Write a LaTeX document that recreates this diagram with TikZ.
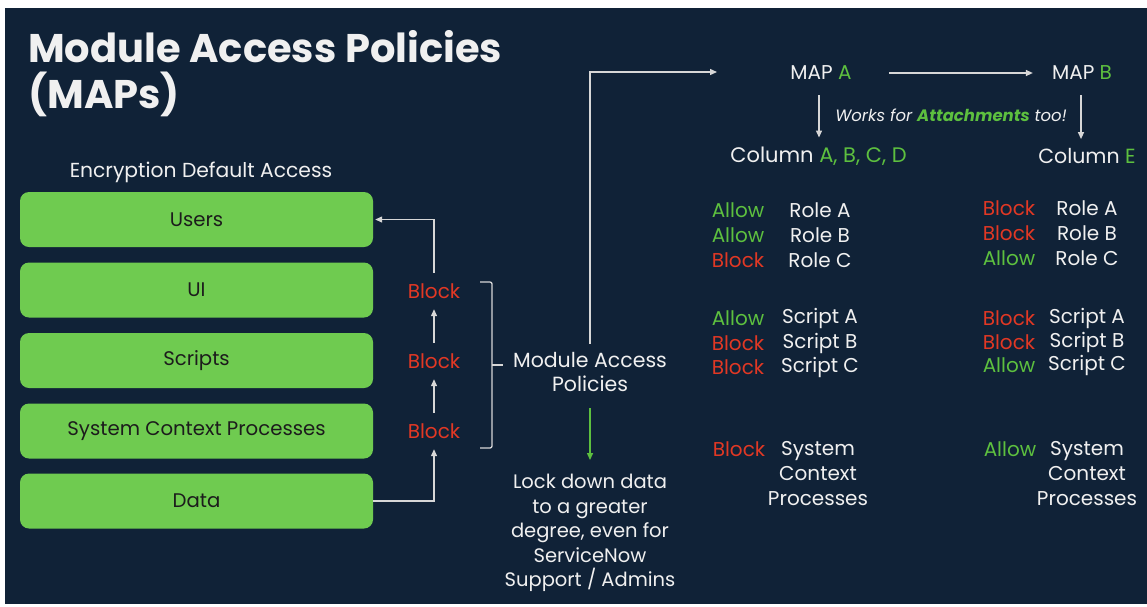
\documentclass[tikz,border=0pt]{standalone}
\usepackage{fontspec}
\setmainfont{Poppins}
\usetikzlibrary{arrows.meta,positioning}
\definecolor{bgc}{RGB}{16,34,55}
\definecolor{boxg}{RGB}{111,203,80}
\definecolor{grn}{RGB}{93,192,63}
\definecolor{redc}{RGB}{226,56,36}
\definecolor{wht}{RGB}{240,240,240}
\definecolor{lnc}{RGB}{215,215,215}
\definecolor{ink}{RGB}{28,28,28}
\tikzset{
  ttl/.style={text=wht, font=\fontsize{40}{46}\selectfont\bfseries, inner sep=0pt},
  bar/.style={fill=boxg, rounded corners=9pt, minimum width=353pt, minimum height=55pt, inner sep=0pt,
    text=ink, font=\fontsize{19.7}{22}\selectfont},
  blk/.style={text=redc, font=\fontsize{20}{24}\selectfont, minimum height=36pt, inner sep=0pt},
  txt/.style={text=wht, font=\fontsize{19.5}{24.5}\selectfont, inner sep=0pt, align=center},
  row/.style={font=\fontsize{20}{25}\selectfont, inner sep=0pt, align=center},
  line/.style={draw=lnc, line width=1.3pt},
  arr/.style={line, -{Triangle[length=7pt,width=6pt]}},
  garr/.style={draw=grn, line width=1.3pt, -{Triangle[length=7pt,width=6pt]}}
}
\begin{document}
\begin{tikzpicture}[x=1pt,y=-1pt]
\useasboundingbox (0,0) rectangle (1147,606);
\fill[bgc] (5,8) rectangle (1147,604);

% title
\node[ttl, anchor=base west] (ttl1) at (28,62) {Module Access Policies};
\node[ttl, anchor=base west] (ttl2) at (28,108) {(MAPs)};

% default access stack
\node[txt, font=\fontsize{20.3}{24}\selectfont] (enc) at (201,172) {Encryption Default Access};
\node[bar] (users) at (196.5,219.5) {Users};
\node[bar] (ui) at (196.5,290) {UI};
\node[bar] (scripts) at (196.5,360.5) {Scripts};
\node[bar] (scp) at (196.5,431) {System Context Processes};
\node[bar] (data) at (196.5,501) {Data};

\node[blk] (b1) at (434,291) {Block};
\node[blk] (b2) at (434,361) {Block};
\node[blk] (b3) at (434,431) {Block};

\draw[arr] (data.east) -| (b3.south);
\draw[arr] (b3.north) -- (b2.south);
\draw[arr] (b2.north) -- (b1.south);
\draw[arr] (b1.north) |- ([xshift=2pt]users.east);

% bracket
\coordinate (brt) at (480,282);
\coordinate (brb) at (480,448);
\draw[line, rounded corners=2pt] (brt) -- ++(12,0) -- ++(0,166) -- (brb);
\draw[line] (492,365) -- ++(11,0);

% module access policies
\node[txt, font=\fontsize{20.5}{24.5}\selectfont] (mapol) at (590,372) {Module Access\\Policies};
\node[txt] (lock) at (590,533) {Lock down data\\to a greater\\degree, even for\\ServiceNow\\Support / Admins};
\coordinate (mapin) at (717,72);
\draw[arr, shorten <=8pt] (mapol.north) |- (mapin);
\draw[garr, shorten <=16pt, shorten >=14pt] (mapol.south) -- (lock.north);

% maps
\node[txt, font=\fontsize{20}{24}\selectfont] (mapa) at (821,73) {MAP \textcolor{grn}{A}};
\node[txt, font=\fontsize{20}{24}\selectfont] (mapb) at (1082,73) {MAP \textcolor{grn}{B}};
\draw[arr, shorten <=37pt, shorten >=19pt] (mapa.east) -- (mapb.west);
\node[txt, font=\fontsize{21}{24}\selectfont] (cola) at (818.5,156) {Column \textcolor{grn}{A, B, C, D}};
\node[txt, font=\fontsize{20.5}{24}\selectfont] (cole) at (1087,156) {Column \textcolor{grn}{E}};
\draw[arr, shorten <=15pt, shorten >=9pt] ([xshift=-2pt]mapa.south) -- ([xshift=-2pt]mapa.south |- cola.north);
\draw[arr, shorten <=15pt, shorten >=9pt] ([xshift=-1pt]mapb.south) -- ([xshift=-1pt]mapb.south |- cole.north);
\node[txt, font=\fontsize{16.5}{18}\selectfont\itshape] (works) at (951,115) {Works for \textcolor{grn}{\bfseries Attachments} too!};

% rules for column a-d
\foreach \y/\c/\s/\t [count=\i] in {210/grn/Allow/Role A, 235/grn/Allow/Role B, 260/redc/Block/Role C,
    318/grn/Allow/Script A, 343/redc/Block/Script B, 367/redc/Block/Script C}{
  \node[row, text=\c] (ls\i) at (738,\y) {\s};
  \node[row, text=wht] (le\i) at (820,\y) {\t};
}
% rules for column e
\foreach \y/\c/\s/\t [count=\i] in {208/redc/Block/Role A, 233/redc/Block/Role B, 258/grn/Allow/Role C,
    318/redc/Block/Script A, 342/redc/Block/Script B, 365/grn/Allow/Script C}{
  \node[row, text=\c] (rs\i) at (1009,\y) {\s};
  \node[row, text=wht] (re\i) at (1087,\y) {\t};
}
\node[row, text=redc] (lsys) at (739,449) {Block};
\node[row, text=wht] (lsyt) at (818,474) {System\\Context\\Processes};
\node[row, text=grn] (rsys) at (1010,449) {Allow};
\node[row, text=wht] (rsyt) at (1087,474) {System\\Context\\Processes};
\end{tikzpicture}
\end{document}
